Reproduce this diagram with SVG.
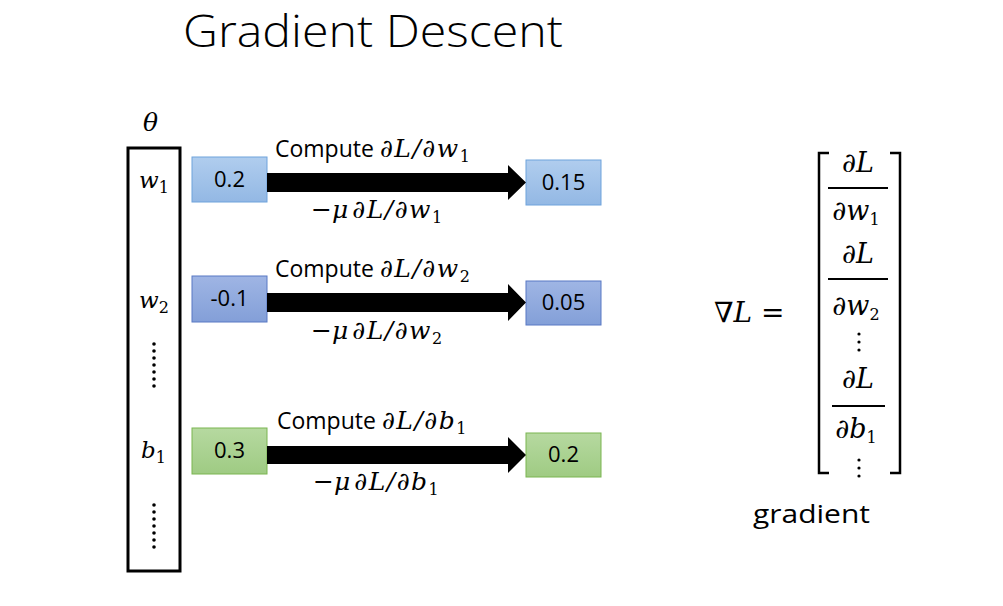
<svg xmlns="http://www.w3.org/2000/svg" width="1003" height="606" viewBox="0 0 1003 606">
<defs>
<linearGradient id="gB1" x1="0" y1="0" x2="0" y2="1"><stop offset="0" stop-color="#b0cdee"/><stop offset="1" stop-color="#93b8e4"/></linearGradient>
<linearGradient id="gB2" x1="0" y1="0" x2="0" y2="1"><stop offset="0" stop-color="#9fb5e4"/><stop offset="1" stop-color="#839fd8"/></linearGradient>
<linearGradient id="gG" x1="0" y1="0" x2="0" y2="1"><stop offset="0" stop-color="#b6d9a0"/><stop offset="1" stop-color="#9fcb83"/></linearGradient>
<style>
.t{font-family:"Open Sans","Liberation Sans",sans-serif;fill:#000}
.num{font-family:"Open Sans","Liberation Sans",sans-serif;font-size:22px;text-anchor:middle;fill:#000}
.m{font-family:"DejaVu Serif","Liberation Serif",serif;font-style:italic}
.s{font-family:"DejaVu Serif","Liberation Serif",serif;font-style:normal;font-size:16px}
.b1{fill:url(#gB1);stroke:#6fa3dc;stroke-width:1}
.b2{fill:url(#gB2);stroke:#5878c4;stroke-width:1}
.g{fill:url(#gG);stroke:#7ab551;stroke-width:1}
.br{fill:none;stroke:#000;stroke-width:2.5}
</style>
</defs>
<rect width="1003" height="606" fill="#fff"/>
<text class="t" x="183" y="47" font-size="45" font-weight="300" textLength="380" lengthAdjust="spacingAndGlyphs">Gradient Descent</text>

<g id="theta">
<text class="m" x="143" y="131" font-size="25">θ</text>
<rect x="128" y="148" width="52" height="423" fill="#fff" stroke="#000" stroke-width="3"/>
<text class="m" x="139" y="188" font-size="23">w<tspan class="s" dy="5">1</tspan></text>
<text class="m" x="139" y="308" font-size="23">w<tspan class="s" dy="5">2</tspan></text>
<text class="m" x="141" y="458" font-size="23">b<tspan class="s" dy="5">1</tspan></text>
<g fill="#000">
<circle cx="154" cy="344" r="1.8"/><circle cx="154" cy="351" r="1.8"/><circle cx="154" cy="358" r="1.8"/><circle cx="154" cy="365" r="1.8"/><circle cx="154" cy="372" r="1.8"/><circle cx="154" cy="379" r="1.8"/><circle cx="154" cy="386" r="1.8"/>
<circle cx="154" cy="505" r="1.8"/><circle cx="154" cy="512" r="1.8"/><circle cx="154" cy="519" r="1.8"/><circle cx="154" cy="526" r="1.8"/><circle cx="154" cy="533" r="1.8"/><circle cx="154" cy="540" r="1.8"/><circle cx="154" cy="547" r="1.8"/>
</g>
</g>

<g id="w1-old"><rect class="b1" x="192" y="157" width="75" height="45"/><text class="num" x="229.5" y="187">0.2</text></g>
<g id="w2-old"><rect class="b2" x="192" y="276" width="75" height="46"/><text class="num" x="229.5" y="306">-0.1</text></g>
<g id="b1-old"><rect class="g" x="192" y="428" width="75" height="46"/><text class="num" x="229.5" y="458">0.3</text></g>

<g id="w1-new"><rect class="b1" x="526" y="160" width="75" height="45"/><text class="num" x="563.5" y="190">0.15</text></g>
<g id="w2-new"><rect class="b2" x="526" y="281" width="75" height="44"/><text class="num" x="563.5" y="310">0.05</text></g>
<g id="b1-new"><rect class="g" x="526" y="433" width="75" height="44"/><text class="num" x="563.5" y="462">0.2</text></g>

<g id="connectors" fill="#000">
<polygon points="267,173 508,173 508,165 526,182.5 508,200 508,192 267,192"/>
<polygon points="267,293 508,293 508,284 526,302.5 508,321 508,312 267,312"/>
<polygon points="267,446 508,446 508,437 526,455 508,473 508,464 267,464"/>
</g>

<g id="labels">
<text class="t" x="275" y="157" font-size="23">Compute <tspan class="m" font-size="25" letter-spacing="1.5">∂L/∂w</tspan><tspan class="s" dy="5">1</tspan></text>
<text class="m" x="311" y="218" font-size="25"><tspan>−μ</tspan><tspan dx="4" letter-spacing="1.5">∂L/∂w</tspan><tspan class="s" dy="5">1</tspan></text>
<text class="t" x="275" y="277" font-size="23">Compute <tspan class="m" font-size="25" letter-spacing="1.5">∂L/∂w</tspan><tspan class="s" dy="5">2</tspan></text>
<text class="m" x="311" y="339" font-size="25"><tspan>−μ</tspan><tspan dx="4" letter-spacing="1.5">∂L/∂w</tspan><tspan class="s" dy="5">2</tspan></text>
<text class="t" x="277" y="429" font-size="23">Compute <tspan class="m" font-size="25" letter-spacing="1.5">∂L/∂b</tspan><tspan class="s" dy="5">1</tspan></text>
<text class="m" x="313" y="490" font-size="25"><tspan>−μ</tspan><tspan dx="4" letter-spacing="1.5">∂L/∂b</tspan><tspan class="s" dy="5">1</tspan></text>
</g>

<g id="gradient">
<text class="m" x="714" y="322" font-size="28">∇L <tspan font-style="normal">=</tspan></text>
<path class="br" d="M829,153 H819 V473 H829"/>
<path class="br" d="M890,153 H900 V473 H890"/>
<g font-size="27" text-anchor="middle" class="m">
<text class="m" x="858" y="172">∂L</text>
<text class="m" x="856" y="220">∂w<tspan class="s" dy="5">1</tspan></text>
<text class="m" x="858" y="263">∂L</text>
<text class="m" x="856" y="315">∂w<tspan class="s" dy="5">2</tspan></text>
<text class="m" x="858" y="388">∂L</text>
<text class="m" x="856" y="438">∂b<tspan class="s" dy="5">1</tspan></text>
</g>
<g stroke="#000" stroke-width="2">
<line x1="828" y1="188" x2="888" y2="188"/>
<line x1="828" y1="279" x2="888" y2="279"/>
<line x1="832" y1="406" x2="885" y2="406"/>
</g>
<g fill="#000">
<circle cx="859" cy="334" r="1.6"/><circle cx="859" cy="342" r="1.6"/><circle cx="859" cy="350" r="1.6"/>
<circle cx="859" cy="460" r="1.6"/><circle cx="859" cy="468" r="1.6"/><circle cx="859" cy="476" r="1.6"/>
</g>
<text class="t" x="753" y="523" font-size="25" textLength="117" lengthAdjust="spacingAndGlyphs">gradient</text>
</g>
</svg>
